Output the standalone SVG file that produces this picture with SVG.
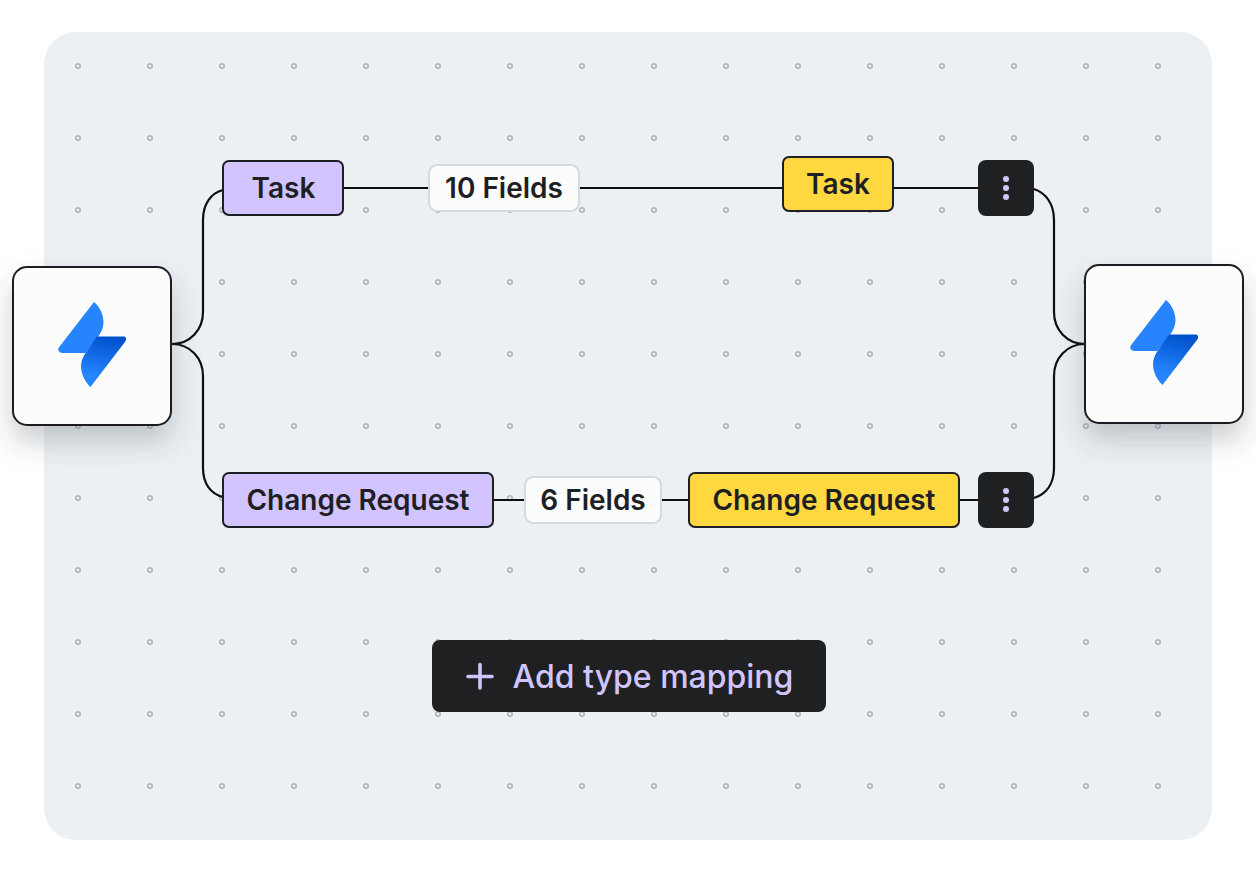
<svg xmlns="http://www.w3.org/2000/svg" width="1256" height="870" viewBox="0 0 1256 870">
<style>
text{font-family:Inter,"Noto Sans","Liberation Sans",sans-serif;text-anchor:middle}
.lbl{font-size:28px;font-weight:600;fill:#1e1f24}
.btn{font-size:32px;font-weight:500;fill:#d2c4fe}
.pur{fill:#d2c4fe;stroke:#1e1f24;stroke-width:2}
.yel{fill:#ffd840;stroke:#1e1f24;stroke-width:2}
.cnt{fill:#fcfcfd;stroke:#d5d9e0;stroke-width:2}
.dark{fill:#1f2022}
.kebab{fill:#d2c4fe}
.app{fill:#fcfcfc;stroke:#1e1f22;stroke-width:2}
.wire{fill:none;stroke:#0d0e10;stroke-width:2.200}
</style>
<defs>
<pattern id="dots" x="42" y="30" width="72" height="72" patternUnits="userSpaceOnUse">
<circle cx="36" cy="36" r="2.200" fill="none" stroke="#b4b8be" stroke-width="1.700"/>
</pattern>
<filter id="sh" x="-40%" y="-40%" width="180%" height="190%">
<feDropShadow dx="0" dy="16" stdDeviation="14" flood-color="#3a4450" flood-opacity="0.26"/>
</filter>
<linearGradient id="g" x1="0.6" y1="0.02" x2="0.45" y2="0.8">
<stop offset="0" stop-color="#0052cc"/><stop offset="1" stop-color="#2684ff"/>
</linearGradient>
<g id="logo">
<path fill="#2684ff" d="M36 0C43 6 45.500 14 45.500 20.500C45.500 26 43 31 39.500 35.500L27.500 51H4.500C1 51-1 47.500 1.200 45Z"/>
<path fill="url(#g)" d="M65.500 34.500C68 34.500 68.800 37 67.300 39.500L32.500 85C25.500 78.500 23 70 23 64.500C23 59 25 54.500 28 50.500L39 34.500Z"/>
</g>
</defs>
<g id="board">
<rect x="44" y="32" width="1168" height="808" rx="32" fill="#ecf0f3"/>
<rect x="44" y="32" width="1150" height="790" fill="url(#dots)"/>
</g>
<g id="connectors">
<path class="wire" d="M172 344C190 344 203 330 203 312V220C203 204 211 193 223 190"/>
<path class="wire" d="M172 344C190 344 203 358 203 376V468C203 484 211 494 223 497"/>
<path class="wire" d="M343 188H429M579 188H783M893 188H978"/>
<path class="wire" d="M493 500H525M661 500H689M959 500H978"/>
<path class="wire" d="M1034 189C1046 193 1054 204 1054 220V312C1054 330 1067 344 1085 344"/>
<path class="wire" d="M1034 498C1046 494 1054 484 1054 468V376C1054 358 1067 344 1085 344"/>
</g>
<g id="source-app">
<rect class="app" x="13" y="267" width="158" height="158" rx="14" filter="url(#sh)"/>
<use href="#logo" x="58" y="302"/>
</g>
<g id="target-app">
<rect class="app" x="1085" y="265" width="158" height="158" rx="14" filter="url(#sh)"/>
<use href="#logo" x="1130" y="300"/>
</g>
<g id="task-source"><rect class="pur" x="223" y="161" width="120" height="54" rx="6"/><text class="lbl" x="283.500" y="198">Task</text></g>
<g id="fields-10"><rect class="cnt" x="429" y="165" width="150" height="46" rx="8"/><text class="lbl" x="504" y="198">10 Fields</text></g>
<g id="task-target"><rect class="yel" x="783" y="157" width="110" height="54" rx="6"/><text class="lbl" x="838" y="194">Task</text></g>
<g id="menu-top"><rect class="dark" x="978" y="160" width="56" height="56" rx="8"/><circle class="kebab" cx="1006" cy="179" r="3"/><circle class="kebab" cx="1006" cy="188" r="3"/><circle class="kebab" cx="1006" cy="197" r="3"/></g>
<g id="change-source"><rect class="pur" x="223" y="473" width="270" height="54" rx="6"/><text class="lbl" x="358" y="510">Change Request</text></g>
<g id="fields-6"><rect class="cnt" x="525" y="477" width="136" height="46" rx="8"/><text class="lbl" x="593" y="510">6 Fields</text></g>
<g id="change-target"><rect class="yel" x="689" y="473" width="270" height="54" rx="6"/><text class="lbl" x="824" y="510">Change Request</text></g>
<g id="menu-bottom"><rect class="dark" x="978" y="472" width="56" height="56" rx="8"/><circle class="kebab" cx="1006" cy="491" r="3"/><circle class="kebab" cx="1006" cy="500" r="3"/><circle class="kebab" cx="1006" cy="509" r="3"/></g>
<g id="add-mapping">
<rect class="dark" x="432" y="640" width="394" height="72" rx="8"/>
<path d="M480 664.500V688M468 676.500H492" stroke="#d2c4fe" stroke-width="3.600" stroke-linecap="round" fill="none"/>
<text class="btn" x="653" y="688">Add type mapping</text>
</g>
</svg>
